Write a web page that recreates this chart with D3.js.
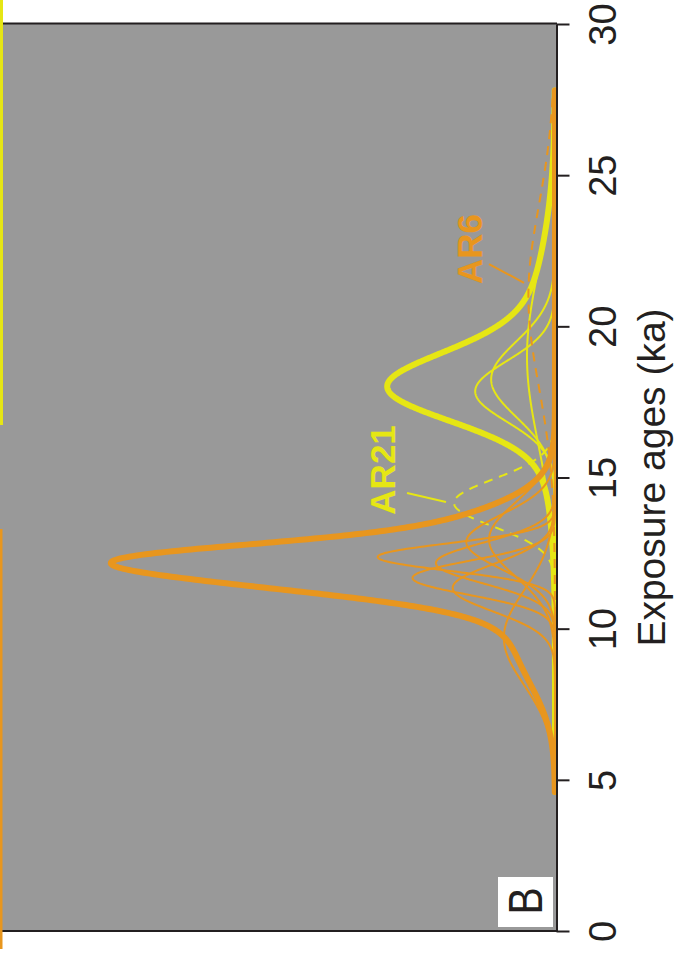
<!DOCTYPE html>
<html><head><meta charset="utf-8">
<script src="https://cdn.jsdelivr.net/npm/d3@7"></script>
<style>body{margin:0;background:#fff} svg{display:block}</style>
</head><body>
<svg id="chart" width="678" height="957"></svg>
<script>
// ---- data (exposure ages, ka, with 1-sigma uncertainty) ----
const orangeAges   = [12.37, 11.68, 12.17, 11.35, 12.87, 12.95, 9.7];
const orangeErrors = [0.45, 0.56, 0.67, 0.78, 0.90, 1.21, 1.56];
const yellowAges   = [17.85, 18.25, 19.0];
const yellowErrors = [1.0, 1.25, 2.85];
const outlierLabels = ["AR6", "AR21"];
const outlierAges   = [21.0, 14.16];
const outlierErrors = [3.0, 0.79];
const sumWeights    = [0.78, 1.0];         // orange, yellow summed curves
const ageTicks      = [0, 5, 10, 15, 20, 25, 30];
const axisTitle     = "Exposure ages (ka)";
const panelLabel    = "B";

const GRAY = "#999999", ORANGE = "#e8961e", YELLOW = "#e6e614", INK = "#231f20";
const FONT = "'Liberation Sans', Arial, Helvetica, sans-serif";

const svg = d3.select("#chart");
const y = d3.scaleLinear().domain([0, 30]).range([931, 24]);
const x = d3.scaleLinear().domain([0, 2.75]).range([555, 5]);

const grid = d3.range(4.6, 27.8001, 0.02);
const pdf = (t, m, s) => Math.exp(-0.5 * ((t - m) / s) ** 2) / (s * Math.sqrt(2 * Math.PI));
const curve = (m, s) => grid.map(t => ({t, p: pdf(t, m, s)}));
const sumCurve = (ages, errs, w) => grid.map(t => ({t, p: w * d3.sum(ages, (a, i) => pdf(t, a, errs[i]))}));
const line = d3.line().x(d => x(d.p)).y(d => y(d.t)).curve(d3.curveLinear);

// background panel
svg.append("rect").attr("x", 0).attr("y", 23).attr("width", 556.5).attr("height", 908).attr("fill", GRAY);
svg.append("line").attr("x1", 3).attr("x2", 557).attr("y1", 23.5).attr("y2", 23.5).attr("stroke", INK).attr("stroke-width", 2);
svg.append("line").attr("x1", 0).attr("x2", 557).attr("y1", 931).attr("y2", 931).attr("stroke", INK).attr("stroke-width", 2);

// neighbouring-panel edge bars
svg.append("rect").attr("x", 0).attr("y", 0).attr("width", 3).attr("height", 425).attr("fill", YELLOW);
svg.append("rect").attr("x", 0).attr("y", 529).attr("width", 2.5).attr("height", 420).attr("fill", ORANGE);

const plot = svg.append("g").attr("fill", "none").attr("stroke-linecap", "round");

// yellow group
yellowAges.forEach((a, i) => plot.append("path").attr("d", line(curve(a, yellowErrors[i])))
  .attr("stroke", YELLOW).attr("stroke-width", 2));
plot.append("path").attr("d", line(curve(outlierAges[1], outlierErrors[1])))
  .attr("stroke", YELLOW).attr("stroke-width", 2).attr("stroke-dasharray", "9,7").attr("stroke-linecap", "butt");
plot.append("path").attr("d", line(sumCurve(yellowAges, yellowErrors, sumWeights[1])))
  .attr("stroke", YELLOW).attr("stroke-width", 6);

// orange group
orangeAges.forEach((a, i) => plot.append("path").attr("d", line(curve(a, orangeErrors[i])))
  .attr("stroke", ORANGE).attr("stroke-width", 2));
plot.append("path").attr("d", line(curve(outlierAges[0], outlierErrors[0])))
  .attr("stroke", ORANGE).attr("stroke-width", 2).attr("stroke-dasharray", "9,7").attr("stroke-linecap", "butt");
plot.append("path").attr("d", line(sumCurve(orangeAges, orangeErrors, sumWeights[0])))
  .attr("stroke", ORANGE).attr("stroke-width", 6);

// outlier labels + leaders (positions in data units)
const labelPos = [{p: 0.365, t: 22.56, l: [[0.33, 22.06], [0.155, 21.44]], c: ORANGE},
                  {p: 0.80,  t: 15.25, l: [[0.74, 14.49], [0.545, 14.19]], c: YELLOW}];
outlierLabels.forEach((lab, i) => {
  const L = labelPos[i];
  svg.append("text").attr("transform", `translate(${x(L.p)},${y(L.t)}) rotate(-90)`)
    .attr("text-anchor", "middle").attr("font-family", FONT).attr("font-weight", "bold")
    .attr("font-size", 35).attr("fill", L.c).text(lab);
  svg.append("line").attr("x1", x(L.l[0][0])).attr("y1", y(L.l[0][1]))
    .attr("x2", x(L.l[1][0])).attr("y2", y(L.l[1][1])).attr("stroke", L.c).attr("stroke-width", 2);
});

// axis
const ax = svg.append("g").attr("transform", "translate(556.5,0)")
  .call(d3.axisRight(y).tickValues(ageTicks).tickSize(13).tickSizeOuter(0).tickFormat(d3.format("d")));
ax.select(".domain").attr("stroke", INK).attr("stroke-width", 2);
ax.selectAll(".tick line").attr("stroke", INK).attr("stroke-width", 2);
ax.selectAll(".tick text").attr("x", null).attr("dy", null)
  .attr("transform", "translate(59,0) rotate(-90)").attr("text-anchor", "middle")
  .attr("font-family", FONT).attr("font-size", 38).attr("fill", INK);
ax.attr("font-family", null).attr("font-size", null);

svg.append("text").attr("transform", `translate(665,${(y(0) + y(30)) / 2}) rotate(-90)`)
  .attr("text-anchor", "middle").attr("font-family", FONT).attr("font-size", 39).attr("fill", INK).text(axisTitle);

// panel label
svg.append("rect").attr("x", 498).attr("y", 877).attr("width", 55).attr("height", 50).attr("fill", "#fff");
svg.append("text").attr("transform", "translate(542,901) rotate(-90) scale(0.85,1)")
  .attr("text-anchor", "middle").attr("font-family", FONT).attr("font-size", 48).attr("fill", INK).text(panelLabel);
</script>
</body></html>
